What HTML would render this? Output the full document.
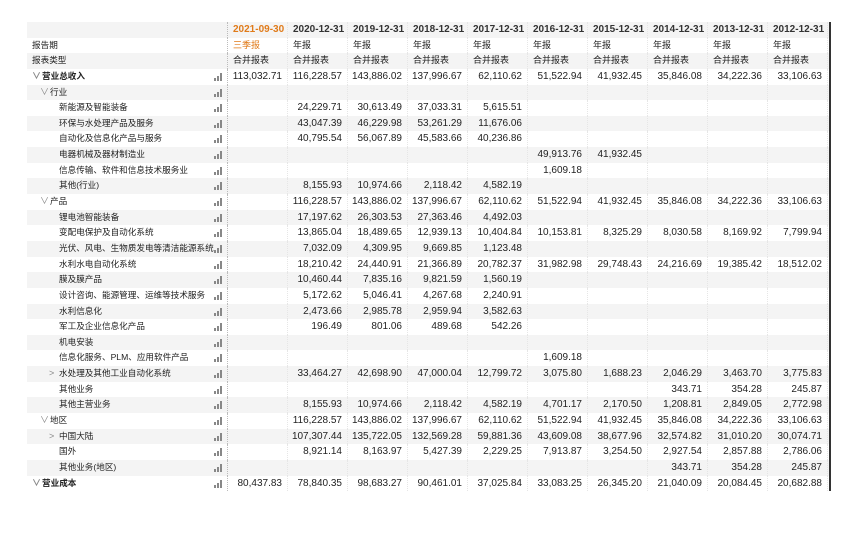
<!DOCTYPE html>
<html><head><meta charset="utf-8">
<style>
body{margin:0;width:852px;height:541px;background:#fff;overflow:hidden;font-family:"Liberation Sans","Noto Sans CJK SC",sans-serif;font-size:10px;color:#222}
#t{position:absolute;left:27px;top:22px;width:802px;border-right:2px solid #333}
.r{display:flex;height:15.65px;line-height:15.65px;white-space:nowrap}
.r:nth-child(odd){background:#f4f4f4}
.l{width:201px;position:relative;border-right:1px dotted #bbb;box-sizing:border-box;overflow:hidden;font-size:8.6px}
.v{width:60px;text-align:right;padding-right:5px;box-sizing:border-box;border-right:1px dotted #e6e6e6}
.v:first-of-type{width:61px}
.h .v{text-align:left;padding-left:5px;padding-right:0;font-size:9px}
.h0 .v{font-weight:bold;color:#333;font-size:10px}
.o{color:#e07b1a!important}
.b{font-weight:bold}
.ic{position:absolute;left:187px;top:4px;width:10px;height:8px;z-index:2}
.ic i{position:absolute;bottom:0;width:1.5px;background:#888}
.i0{padding-left:5px}.i1{padding-left:13px}.i2{padding-left:32px}
.c{color:#888;display:inline-block;width:10px;font-size:9px}
</style></head><body>
<div id="t">
<div class="r h h0"><div class="l"></div><div class="v o">2021-09-30</div><div class="v">2020-12-31</div><div class="v">2019-12-31</div><div class="v">2018-12-31</div><div class="v">2017-12-31</div><div class="v">2016-12-31</div><div class="v">2015-12-31</div><div class="v">2014-12-31</div><div class="v">2013-12-31</div><div class="v">2012-12-31</div></div>
<div class="r h"><div class="l i0">报告期</div><div class="v o">三季报</div><div class="v">年报</div><div class="v">年报</div><div class="v">年报</div><div class="v">年报</div><div class="v">年报</div><div class="v">年报</div><div class="v">年报</div><div class="v">年报</div><div class="v">年报</div></div>
<div class="r h"><div class="l i0">报表类型</div><div class="v">合并报表</div><div class="v">合并报表</div><div class="v">合并报表</div><div class="v">合并报表</div><div class="v">合并报表</div><div class="v">合并报表</div><div class="v">合并报表</div><div class="v">合并报表</div><div class="v">合并报表</div><div class="v">合并报表</div></div>
<div class="r"><div class="l i0 b"><span class="c">∨</span>营业总收入<span class="ic"><i style="left:0;height:3px"></i><i style="left:3px;height:5px"></i><i style="left:6px;height:8px"></i></span></div><div class="v">113,032.71</div><div class="v">116,228.57</div><div class="v">143,886.02</div><div class="v">137,996.67</div><div class="v">62,110.62</div><div class="v">51,522.94</div><div class="v">41,932.45</div><div class="v">35,846.08</div><div class="v">34,222.36</div><div class="v">33,106.63</div></div>
<div class="r"><div class="l i1"><span class="c">∨</span>行业<span class="ic"><i style="left:0;height:3px"></i><i style="left:3px;height:5px"></i><i style="left:6px;height:8px"></i></span></div><div class="v"></div><div class="v"></div><div class="v"></div><div class="v"></div><div class="v"></div><div class="v"></div><div class="v"></div><div class="v"></div><div class="v"></div><div class="v"></div></div>
<div class="r"><div class="l i2">新能源及智能装备<span class="ic"><i style="left:0;height:3px"></i><i style="left:3px;height:5px"></i><i style="left:6px;height:8px"></i></span></div><div class="v"></div><div class="v">24,229.71</div><div class="v">30,613.49</div><div class="v">37,033.31</div><div class="v">5,615.51</div><div class="v"></div><div class="v"></div><div class="v"></div><div class="v"></div><div class="v"></div></div>
<div class="r"><div class="l i2">环保与水处理产品及服务<span class="ic"><i style="left:0;height:3px"></i><i style="left:3px;height:5px"></i><i style="left:6px;height:8px"></i></span></div><div class="v"></div><div class="v">43,047.39</div><div class="v">46,229.98</div><div class="v">53,261.29</div><div class="v">11,676.06</div><div class="v"></div><div class="v"></div><div class="v"></div><div class="v"></div><div class="v"></div></div>
<div class="r"><div class="l i2">自动化及信息化产品与服务<span class="ic"><i style="left:0;height:3px"></i><i style="left:3px;height:5px"></i><i style="left:6px;height:8px"></i></span></div><div class="v"></div><div class="v">40,795.54</div><div class="v">56,067.89</div><div class="v">45,583.66</div><div class="v">40,236.86</div><div class="v"></div><div class="v"></div><div class="v"></div><div class="v"></div><div class="v"></div></div>
<div class="r"><div class="l i2">电器机械及器材制造业<span class="ic"><i style="left:0;height:3px"></i><i style="left:3px;height:5px"></i><i style="left:6px;height:8px"></i></span></div><div class="v"></div><div class="v"></div><div class="v"></div><div class="v"></div><div class="v"></div><div class="v">49,913.76</div><div class="v">41,932.45</div><div class="v"></div><div class="v"></div><div class="v"></div></div>
<div class="r"><div class="l i2">信息传输、软件和信息技术服务业<span class="ic"><i style="left:0;height:3px"></i><i style="left:3px;height:5px"></i><i style="left:6px;height:8px"></i></span></div><div class="v"></div><div class="v"></div><div class="v"></div><div class="v"></div><div class="v"></div><div class="v">1,609.18</div><div class="v"></div><div class="v"></div><div class="v"></div><div class="v"></div></div>
<div class="r"><div class="l i2">其他(行业)<span class="ic"><i style="left:0;height:3px"></i><i style="left:3px;height:5px"></i><i style="left:6px;height:8px"></i></span></div><div class="v"></div><div class="v">8,155.93</div><div class="v">10,974.66</div><div class="v">2,118.42</div><div class="v">4,582.19</div><div class="v"></div><div class="v"></div><div class="v"></div><div class="v"></div><div class="v"></div></div>
<div class="r"><div class="l i1"><span class="c">∨</span>产品<span class="ic"><i style="left:0;height:3px"></i><i style="left:3px;height:5px"></i><i style="left:6px;height:8px"></i></span></div><div class="v"></div><div class="v">116,228.57</div><div class="v">143,886.02</div><div class="v">137,996.67</div><div class="v">62,110.62</div><div class="v">51,522.94</div><div class="v">41,932.45</div><div class="v">35,846.08</div><div class="v">34,222.36</div><div class="v">33,106.63</div></div>
<div class="r"><div class="l i2">锂电池智能装备<span class="ic"><i style="left:0;height:3px"></i><i style="left:3px;height:5px"></i><i style="left:6px;height:8px"></i></span></div><div class="v"></div><div class="v">17,197.62</div><div class="v">26,303.53</div><div class="v">27,363.46</div><div class="v">4,492.03</div><div class="v"></div><div class="v"></div><div class="v"></div><div class="v"></div><div class="v"></div></div>
<div class="r"><div class="l i2">变配电保护及自动化系统<span class="ic"><i style="left:0;height:3px"></i><i style="left:3px;height:5px"></i><i style="left:6px;height:8px"></i></span></div><div class="v"></div><div class="v">13,865.04</div><div class="v">18,489.65</div><div class="v">12,939.13</div><div class="v">10,404.84</div><div class="v">10,153.81</div><div class="v">8,325.29</div><div class="v">8,030.58</div><div class="v">8,169.92</div><div class="v">7,799.94</div></div>
<div class="r"><div class="l i2">光伏、风电、生物质发电等清洁能源系统<span class="ic"><i style="left:0;height:3px"></i><i style="left:3px;height:5px"></i><i style="left:6px;height:8px"></i></span></div><div class="v"></div><div class="v">7,032.09</div><div class="v">4,309.95</div><div class="v">9,669.85</div><div class="v">1,123.48</div><div class="v"></div><div class="v"></div><div class="v"></div><div class="v"></div><div class="v"></div></div>
<div class="r"><div class="l i2">水利水电自动化系统<span class="ic"><i style="left:0;height:3px"></i><i style="left:3px;height:5px"></i><i style="left:6px;height:8px"></i></span></div><div class="v"></div><div class="v">18,210.42</div><div class="v">24,440.91</div><div class="v">21,366.89</div><div class="v">20,782.37</div><div class="v">31,982.98</div><div class="v">29,748.43</div><div class="v">24,216.69</div><div class="v">19,385.42</div><div class="v">18,512.02</div></div>
<div class="r"><div class="l i2">膜及膜产品<span class="ic"><i style="left:0;height:3px"></i><i style="left:3px;height:5px"></i><i style="left:6px;height:8px"></i></span></div><div class="v"></div><div class="v">10,460.44</div><div class="v">7,835.16</div><div class="v">9,821.59</div><div class="v">1,560.19</div><div class="v"></div><div class="v"></div><div class="v"></div><div class="v"></div><div class="v"></div></div>
<div class="r"><div class="l i2">设计咨询、能源管理、运维等技术服务<span class="ic"><i style="left:0;height:3px"></i><i style="left:3px;height:5px"></i><i style="left:6px;height:8px"></i></span></div><div class="v"></div><div class="v">5,172.62</div><div class="v">5,046.41</div><div class="v">4,267.68</div><div class="v">2,240.91</div><div class="v"></div><div class="v"></div><div class="v"></div><div class="v"></div><div class="v"></div></div>
<div class="r"><div class="l i2">水利信息化<span class="ic"><i style="left:0;height:3px"></i><i style="left:3px;height:5px"></i><i style="left:6px;height:8px"></i></span></div><div class="v"></div><div class="v">2,473.66</div><div class="v">2,985.78</div><div class="v">2,959.94</div><div class="v">3,582.63</div><div class="v"></div><div class="v"></div><div class="v"></div><div class="v"></div><div class="v"></div></div>
<div class="r"><div class="l i2">军工及企业信息化产品<span class="ic"><i style="left:0;height:3px"></i><i style="left:3px;height:5px"></i><i style="left:6px;height:8px"></i></span></div><div class="v"></div><div class="v">196.49</div><div class="v">801.06</div><div class="v">489.68</div><div class="v">542.26</div><div class="v"></div><div class="v"></div><div class="v"></div><div class="v"></div><div class="v"></div></div>
<div class="r"><div class="l i2">机电安装<span class="ic"><i style="left:0;height:3px"></i><i style="left:3px;height:5px"></i><i style="left:6px;height:8px"></i></span></div><div class="v"></div><div class="v"></div><div class="v"></div><div class="v"></div><div class="v"></div><div class="v"></div><div class="v"></div><div class="v"></div><div class="v"></div><div class="v"></div></div>
<div class="r"><div class="l i2">信息化服务、PLM、应用软件产品<span class="ic"><i style="left:0;height:3px"></i><i style="left:3px;height:5px"></i><i style="left:6px;height:8px"></i></span></div><div class="v"></div><div class="v"></div><div class="v"></div><div class="v"></div><div class="v"></div><div class="v">1,609.18</div><div class="v"></div><div class="v"></div><div class="v"></div><div class="v"></div></div>
<div class="r"><div class="l i2" style="padding-left:22px"><span class="c">&gt;</span>水处理及其他工业自动化系统<span class="ic"><i style="left:0;height:3px"></i><i style="left:3px;height:5px"></i><i style="left:6px;height:8px"></i></span></div><div class="v"></div><div class="v">33,464.27</div><div class="v">42,698.90</div><div class="v">47,000.04</div><div class="v">12,799.72</div><div class="v">3,075.80</div><div class="v">1,688.23</div><div class="v">2,046.29</div><div class="v">3,463.70</div><div class="v">3,775.83</div></div>
<div class="r"><div class="l i2">其他业务<span class="ic"><i style="left:0;height:3px"></i><i style="left:3px;height:5px"></i><i style="left:6px;height:8px"></i></span></div><div class="v"></div><div class="v"></div><div class="v"></div><div class="v"></div><div class="v"></div><div class="v"></div><div class="v"></div><div class="v">343.71</div><div class="v">354.28</div><div class="v">245.87</div></div>
<div class="r"><div class="l i2">其他主营业务<span class="ic"><i style="left:0;height:3px"></i><i style="left:3px;height:5px"></i><i style="left:6px;height:8px"></i></span></div><div class="v"></div><div class="v">8,155.93</div><div class="v">10,974.66</div><div class="v">2,118.42</div><div class="v">4,582.19</div><div class="v">4,701.17</div><div class="v">2,170.50</div><div class="v">1,208.81</div><div class="v">2,849.05</div><div class="v">2,772.98</div></div>
<div class="r"><div class="l i1"><span class="c">∨</span>地区<span class="ic"><i style="left:0;height:3px"></i><i style="left:3px;height:5px"></i><i style="left:6px;height:8px"></i></span></div><div class="v"></div><div class="v">116,228.57</div><div class="v">143,886.02</div><div class="v">137,996.67</div><div class="v">62,110.62</div><div class="v">51,522.94</div><div class="v">41,932.45</div><div class="v">35,846.08</div><div class="v">34,222.36</div><div class="v">33,106.63</div></div>
<div class="r"><div class="l i2" style="padding-left:22px"><span class="c">&gt;</span>中国大陆<span class="ic"><i style="left:0;height:3px"></i><i style="left:3px;height:5px"></i><i style="left:6px;height:8px"></i></span></div><div class="v"></div><div class="v">107,307.44</div><div class="v">135,722.05</div><div class="v">132,569.28</div><div class="v">59,881.36</div><div class="v">43,609.08</div><div class="v">38,677.96</div><div class="v">32,574.82</div><div class="v">31,010.20</div><div class="v">30,074.71</div></div>
<div class="r"><div class="l i2">国外<span class="ic"><i style="left:0;height:3px"></i><i style="left:3px;height:5px"></i><i style="left:6px;height:8px"></i></span></div><div class="v"></div><div class="v">8,921.14</div><div class="v">8,163.97</div><div class="v">5,427.39</div><div class="v">2,229.25</div><div class="v">7,913.87</div><div class="v">3,254.50</div><div class="v">2,927.54</div><div class="v">2,857.88</div><div class="v">2,786.06</div></div>
<div class="r"><div class="l i2">其他业务(地区)<span class="ic"><i style="left:0;height:3px"></i><i style="left:3px;height:5px"></i><i style="left:6px;height:8px"></i></span></div><div class="v"></div><div class="v"></div><div class="v"></div><div class="v"></div><div class="v"></div><div class="v"></div><div class="v"></div><div class="v">343.71</div><div class="v">354.28</div><div class="v">245.87</div></div>
<div class="r"><div class="l i0 b"><span class="c">∨</span>营业成本<span class="ic"><i style="left:0;height:3px"></i><i style="left:3px;height:5px"></i><i style="left:6px;height:8px"></i></span></div><div class="v">80,437.83</div><div class="v">78,840.35</div><div class="v">98,683.27</div><div class="v">90,461.01</div><div class="v">37,025.84</div><div class="v">33,083.25</div><div class="v">26,345.20</div><div class="v">21,040.09</div><div class="v">20,084.45</div><div class="v">20,682.88</div></div>
</div>
</body></html>
